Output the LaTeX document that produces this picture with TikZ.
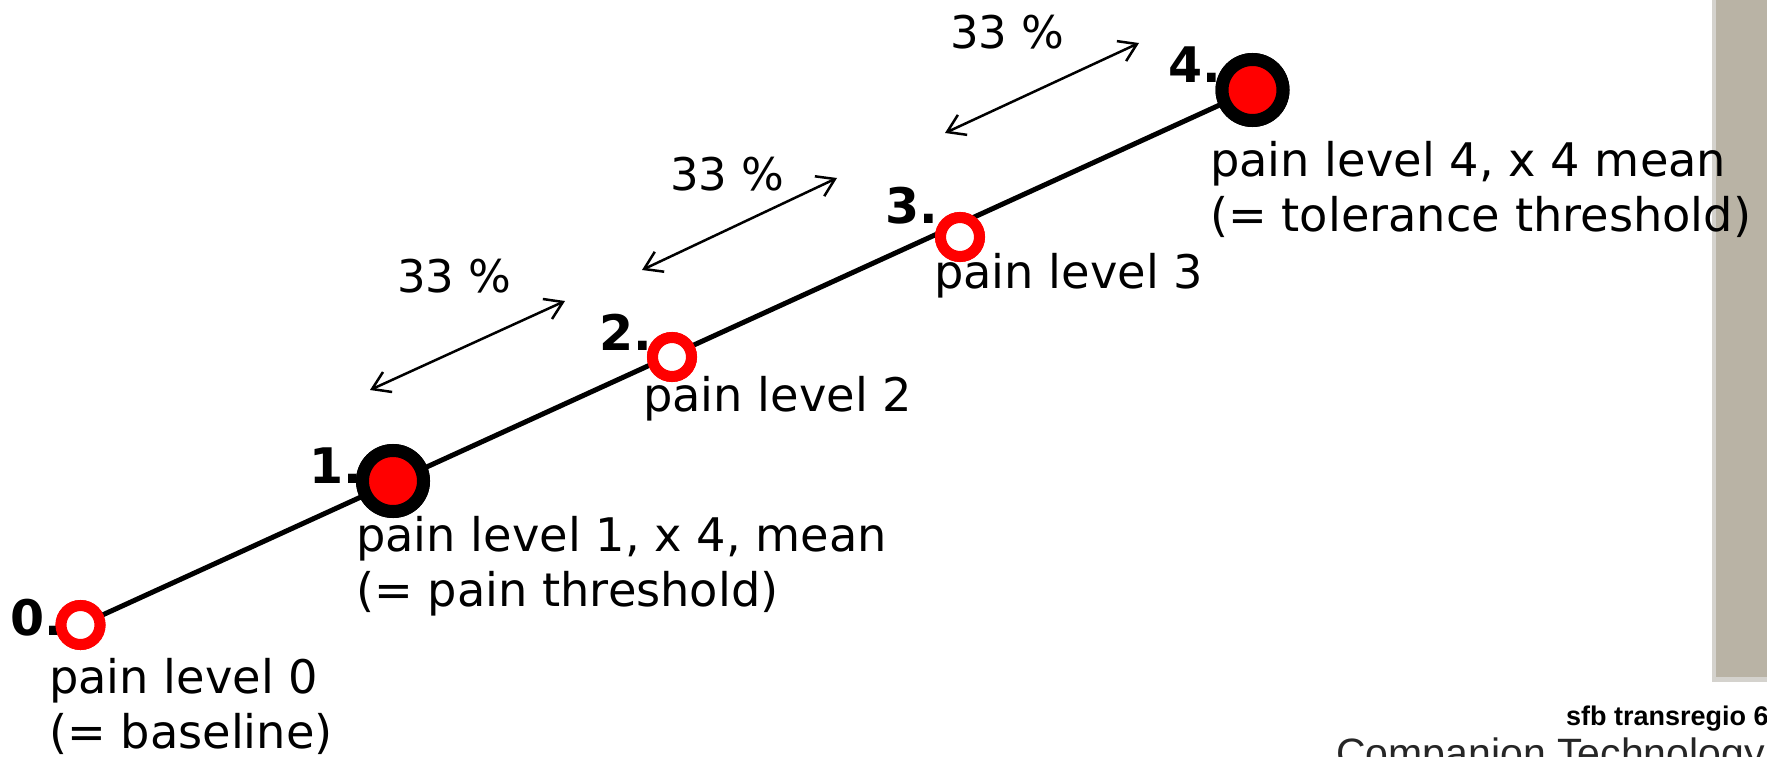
\documentclass[tikz,border=0pt]{standalone}
\usepackage{fontspec}
\setmainfont{DejaVu Sans}
\newfontfamily\footfont{Liberation Sans}
\usetikzlibrary{arrows.meta,backgrounds}
\definecolor{barcol}{RGB}{185,179,165}
\definecolor{barshadow}{RGB}{212,210,205}
\definecolor{ptred}{RGB}{255,0,0}
\tikzset{
  lbl/.style={font={\fontsize{46.3}{55}\selectfont}, inner sep=0pt, anchor=base west},
  numlbl/.style={font={\fontsize{49}{60}\selectfont\bfseries}, inner sep=0pt, anchor=base west},
  pctlbl/.style={font={\fontsize{45}{55}\selectfont}, inner sep=0pt, anchor=base west},
  ring/.style={circle, inner sep=0pt, minimum size=39pt, line width=11pt, draw=ptred, fill=white},
  bigdot/.style={circle, inner sep=0pt, minimum size=61pt, line width=13pt, draw=black, fill=ptred},
  axisline/.style={line width=5pt},
  dbl/.style={line width=2.5pt, {Straight Barb[length=17pt,width=22pt]}-{Straight Barb[length=17pt,width=22pt]}},
}
\begin{document}
\begin{tikzpicture}[x=1pt,y=-1pt]
\useasboundingbox (0,0) rectangle (1767,757);
\clip (0,0) rectangle (1767,757);
% grey side bar
\fill[barshadow] (1712,0) rectangle (1767,682);
\fill[barcol] (1716,0) rectangle (1767,677);
% points
\node[ring]   (p0) at (80.5,625) {};
\node[bigdot] (p1) at (393,481) {};
\node[ring]   (p2) at (672,357) {};
\node[ring]   (p3) at (960,237) {};
\node[bigdot] (p4) at (1252.5,90) {};
\begin{pgfonlayer}{background}
\draw[axisline] (p0.center) -- (p4.center);
\end{pgfonlayer}
% number labels
\node[numlbl] (n0) at (10,635) {0.};
\node[numlbl] (n1) at (309,483) {1.};
\node[numlbl] (n2) at (599,350) {2.};
\node[numlbl] (n3) at (885,223) {3.};
\node[numlbl] (n4) at (1168,83) {4.};
% redraw circles above numbers
\node[ring]   (q0) at (p0) {};
\node[bigdot] (q1) at (p1) {};
\node[ring]   (q2) at (p2) {};
\node[ring]   (q3) at (p3) {};
\node[bigdot] (q4) at (p4) {};
% descriptions
\node[lbl] (l0a) at (49,693) {pain level 0};
\node[lbl] (l0b) at (49,748) {(= baseline)};
\node[lbl] (l1a) at (356,551) {pain level 1, x 4, mean};
\node[lbl] (l1b) at (356,606) {(= pain threshold)};
\node[lbl] (l2a) at (643,411) {pain level 2};
\node[lbl] (l3a) at (934,288) {pain level 3};
\node[lbl] (l4a) at (1210,176) {pain level 4, x 4 mean};
\node[lbl] (l4b) at (1210,231) {(= tolerance threshold)};
% percentage arrows
\coordinate (a1s) at (370,390);
\coordinate (a1e) at (565,301);
\coordinate (a2s) at (642,270);
\coordinate (a2e) at (837,178);
\coordinate (a3s) at (945,133);
\coordinate (a3e) at (1139,43);
\draw[dbl] (a1s) -- (a1e);
\draw[dbl] (a2s) -- (a2e);
\draw[dbl] (a3s) -- (a3e);
\node[pctlbl] (pc1) at (397,292) {33 \%};
\node[pctlbl] (pc2) at (670,190) {33 \%};
\node[pctlbl] (pc3) at (950,49) {33 \%};
% footer
\node[inner sep=0pt, anchor=base west, font={\footfont\fontsize{27}{30}\selectfont\bfseries}] (sfb) at (1566,725) {sfb transregio 6};
\node[inner sep=0pt, anchor=base west, text=black!85, font={\footfont\fontsize{41}{45}\selectfont}] (comp) at (1336,767) {Companion Technology};
\end{tikzpicture}
\end{document}
